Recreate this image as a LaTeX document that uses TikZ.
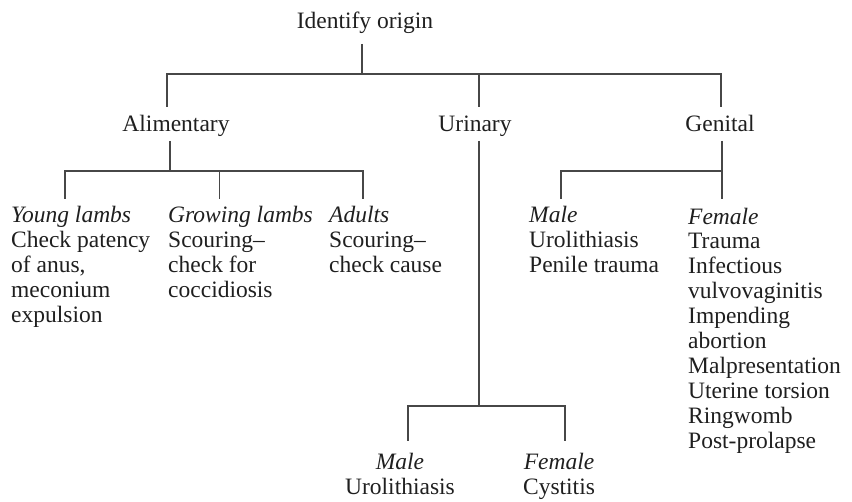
\documentclass[tikz,border=0pt]{standalone}
\usepackage{fontspec}
\setmainfont{Liberation Serif}
\begin{document}
\begin{tikzpicture}[x=1pt,y=-1pt,
  every node/.style={inner sep=0pt, font=\fontsize{23.5}{25}\selectfont, text=black!88},
  link/.style={draw=black!72, line width=1.1pt},
  % multi-line blocks are placed by the baseline of their last line
  col/.style={anchor=base west, align=left},
  head/.style={anchor=base},
  pair/.style={anchor=base, align=center}]
\useasboundingbox (0,0) rectangle (852,502);

% headings
\node[head] (root)  at (365,29)  {Identify origin};
\node[head] (alim)  at (176,132) {Alimentary};
\node[head] (urin)  at (475,132) {Urinary};
\node[head] (genit) at (720,132) {Genital};

% leaf blocks (first baseline at 223, 25pt between lines)
\node[col] (young) at (11,323)
  {\textit{Young lambs}\\Check patency\\of anus,\\meconium\\expulsion};
\node[col] (grow) at (168,298)
  {\textit{Growing lambs}\\Scouring--\\check for\\coccidiosis};
\node[col] (adult) at (329,273)
  {\textit{Adults}\\Scouring--\\check cause};
\node[col] (gmale) at (529,273)
  {\textit{Male}\\Urolithiasis\\Penile trauma};
\node[col] (gfem) at (688,449)
  {\textit{Female}\\Trauma\\Infectious\\vulvovaginitis\\Impending\\abortion\\Malpresentation\\Uterine torsion\\Ringwomb\\Post-prolapse};
\node[pair] (umale) at (400,495) {\textit{Male}\\Urolithiasis};
\node[pair] (ufem)  at (559,495) {\textit{Female}\\Cystitis};

% junction points of the tree
\coordinate (rootTop) at (362,44);
\coordinate (rootBar) at (362,74);
\coordinate (alimTop) at (170,141);
\coordinate (alimBar) at (170,171);
\coordinate (urinTop) at (479,141);
\coordinate (urinBar) at (479,406);
\coordinate (genTop)  at (722,141);
\coordinate (genBar)  at (722,171);

% first level
\draw[link] (rootTop) -- (rootBar);
\draw[link] (167,107) -- (167,74) -- (721,74) -- (721,107);
\draw[link] (479,74) -- (479,107);

% alimentary branch
\draw[link] (alimTop) -- (alimBar);
\draw[link] (65,199) -- (65,171) -- (363,171) -- (363,199);
\draw[link] (219.6,171) -- (219.6,199);

% urinary branch
\draw[link] (urinTop) -- (urinBar);
\draw[link] (408,441) -- (408,406) -- (565,406) -- (565,441);

% genital branch
\draw[link] (genTop) -- (genBar) -- (722,199);
\draw[link] (genBar) -- (561,171) -- (561,199);
\end{tikzpicture}
\end{document}
